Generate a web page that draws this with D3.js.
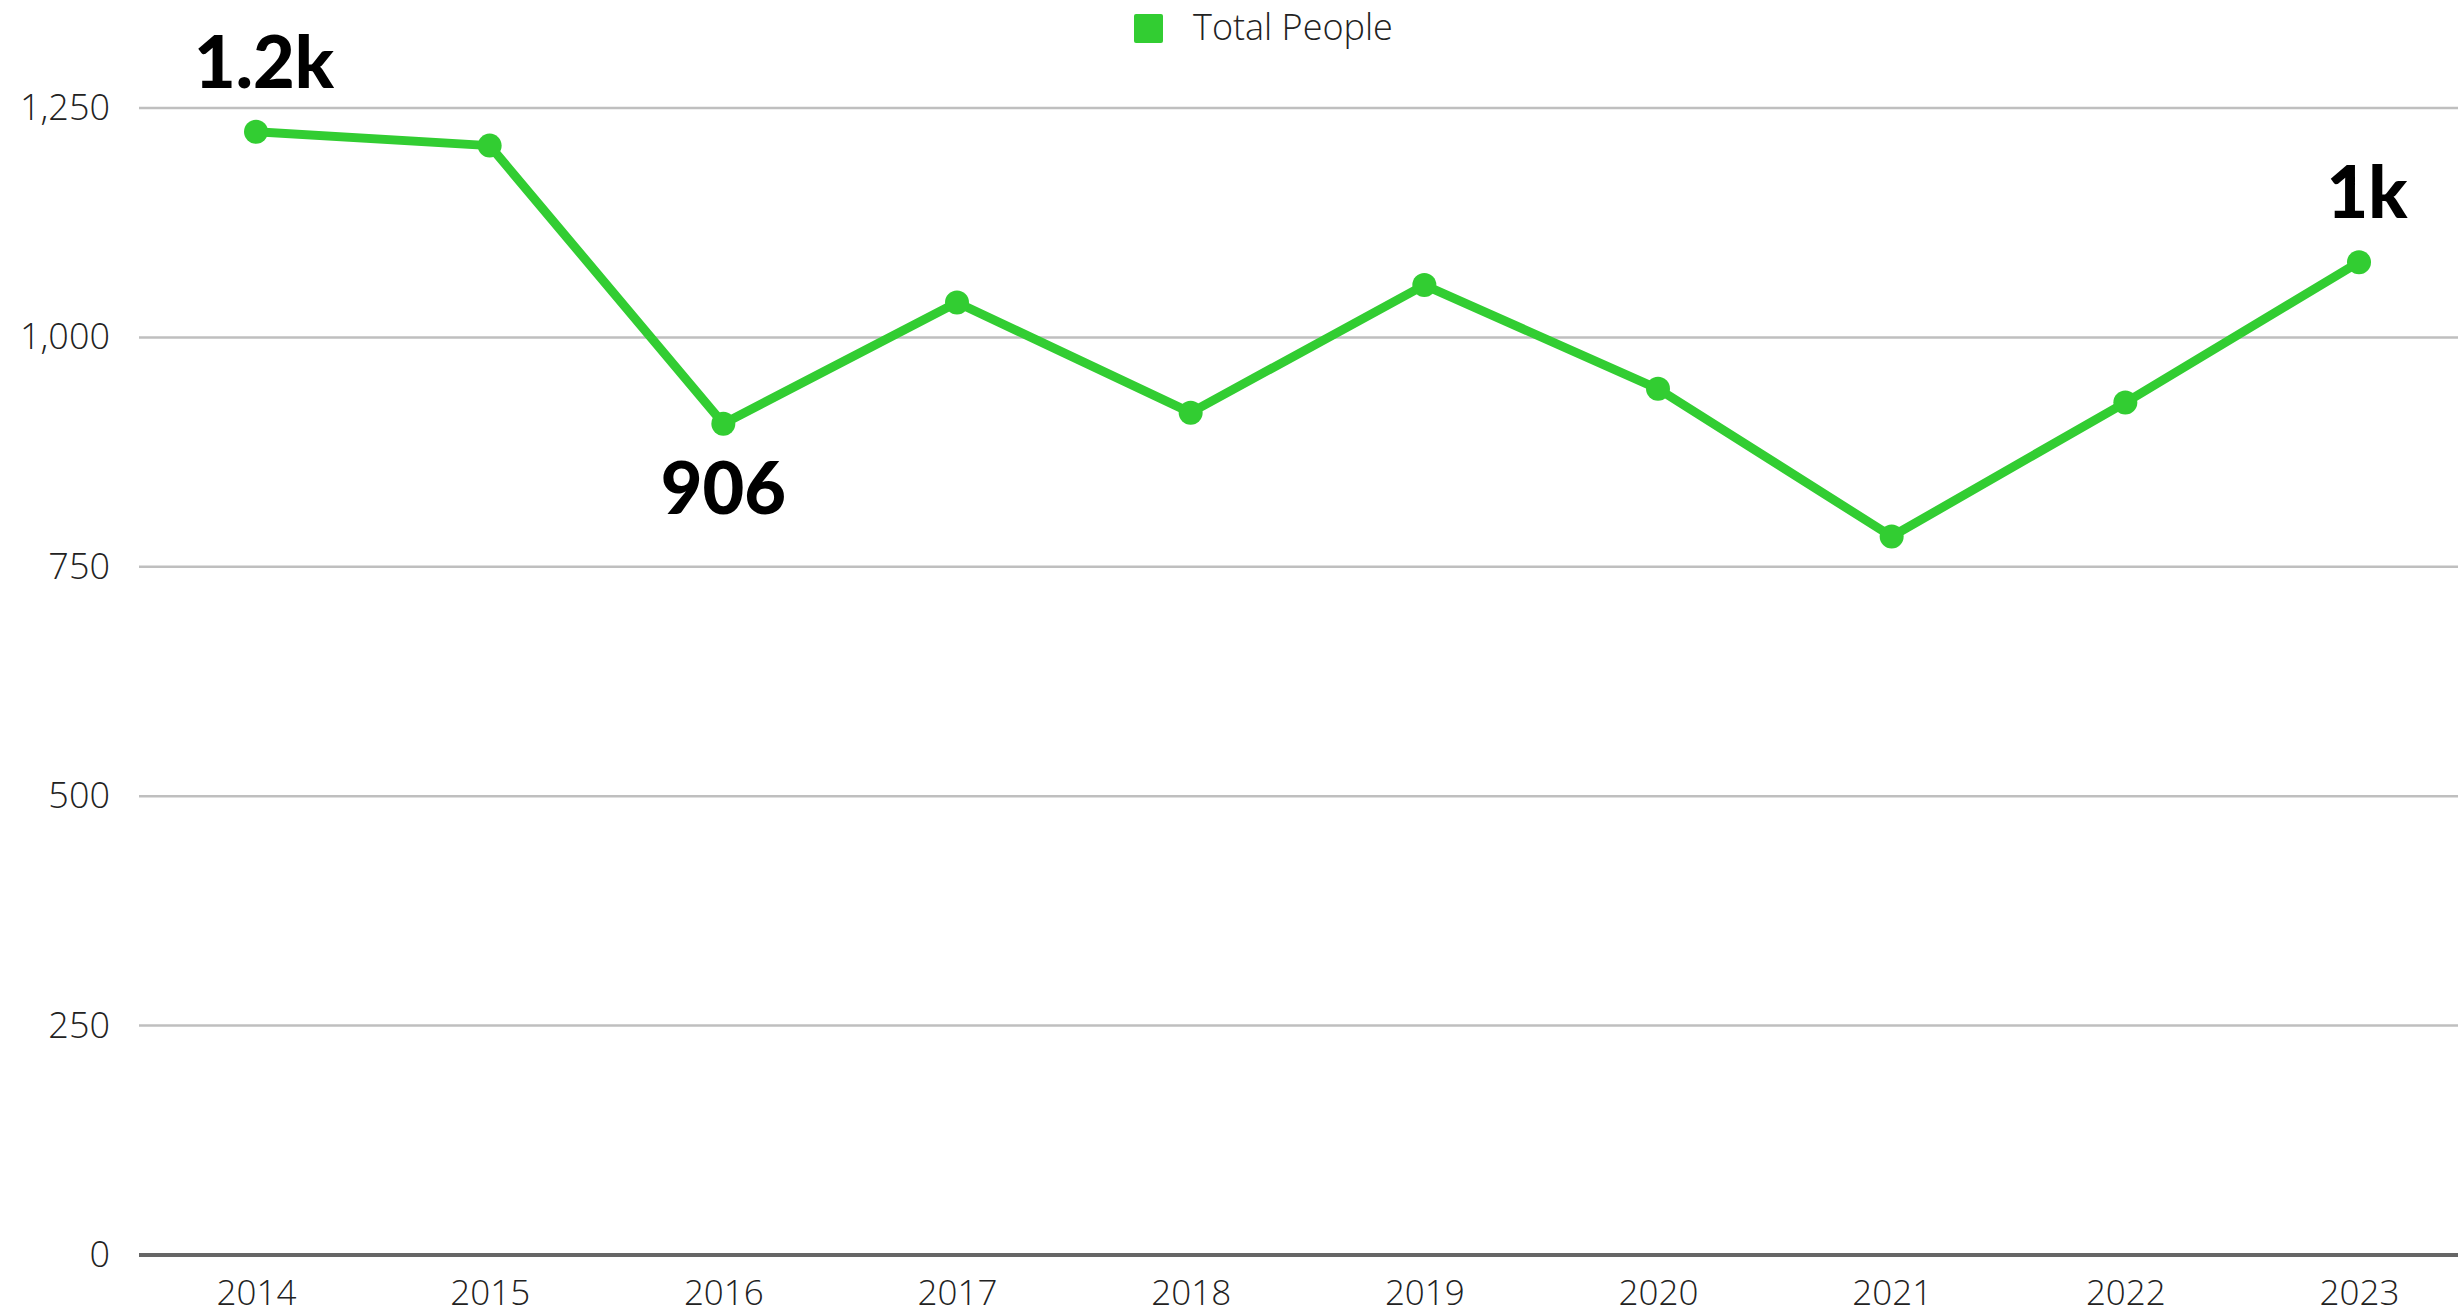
<!DOCTYPE html>
<html>
<head>
<meta charset="utf-8">
<script src="https://cdn.jsdelivr.net/npm/d3@7"></script>
<style>
  body { margin: 0; background: #fff; }
  svg { display: block; }
</style>
</head>
<body>
<svg id="chart"></svg>
<script>
// chart values
const years = [2014, 2015, 2016, 2017, 2018, 2019, 2020, 2021, 2022, 2023];
const totalPeople = [1224, 1209, 906, 1038, 918, 1057, 944, 783, 929, 1082];
const yTicks = [0, 250, 500, 750, 1000, 1250];
// only a few points carry a label
const pointLabels = [
  { year: 2014, text: "1.2k", pos: "above" },
  { year: 2016, text: "906", pos: "below" },
  { year: 2023, text: "1k", pos: "above" }
];
const seriesName = "Total People";

const width = 2458;
const height = 1315;
const green = "#32cd32";

const svg = d3.select("#chart")
  .attr("width", width)
  .attr("height", height);

// scales
const xScale = d3.scalePoint()
  .domain(years)
  .range([256, 2359]);

const yScale = d3.scaleLinear()
  .domain([0, 1250])
  .range([1255, 108]);

const gridLeft = 139;
const gridRight = width;

// gridlines
svg.append("g")
  .selectAll("line")
  .data(yTicks.filter(d => d !== 0))
  .join("line")
  .attr("x1", gridLeft)
  .attr("x2", gridRight)
  .attr("y1", d => yScale(d))
  .attr("y2", d => yScale(d))
  .attr("stroke", "#bfbfbf")
  .attr("stroke-width", 2.5);

// y axis labels
const yAxis = d3.axisLeft(yScale)
  .tickValues(yTicks)
  .tickFormat(d3.format(","))
  .tickSize(0)
  .tickPadding(0);

svg.append("g")
  .attr("transform", "translate(110,0)")
  .call(yAxis)
  .call(g => g.select(".domain").remove())
  .call(g => g.selectAll("text")
    .attr("font-family", "'Open Sans', sans-serif")
    .attr("font-weight", 300)
    .attr("font-size", 36)
    .attr("fill", "#222"));

// baseline
svg.append("line")
  .attr("x1", gridLeft)
  .attr("x2", gridRight)
  .attr("y1", yScale(0))
  .attr("y2", yScale(0))
  .attr("stroke", "#666")
  .attr("stroke-width", 4);

// x axis labels
const xAxis = d3.axisBottom(xScale).tickSize(0).tickPadding(0);
svg.append("g")
  .attr("transform", "translate(0,1278)")
  .call(xAxis)
  .call(g => g.select(".domain").remove())
  .call(g => g.selectAll("text")
    .attr("dy", "0.76em")
    .attr("font-family", "'Open Sans', sans-serif")
    .attr("font-weight", 300)
    .attr("font-size", 35)
    .attr("fill", "#222"));

// line
const data = years.map((y, i) => ({ year: y, value: totalPeople[i] }));

const line = d3.line()
  .x(d => xScale(d.year))
  .y(d => yScale(d.value));

svg.append("path")
  .datum(data)
  .attr("d", line)
  .attr("fill", "none")
  .attr("stroke", green)
  .attr("stroke-width", 9)
  .attr("stroke-linejoin", "round");

svg.append("g")
  .selectAll("circle")
  .data(data)
  .join("circle")
  .attr("cx", d => xScale(d.year))
  .attr("cy", d => yScale(d.value))
  .attr("r", 12)
  .attr("fill", green);

// data labels
svg.append("g")
  .selectAll("text")
  .data(pointLabels)
  .join("text")
  .attr("x", d => xScale(d.year) + (d.pos === "above" ? 8 : 0))
  .attr("y", d => {
    let v = totalPeople[years.indexOf(d.year)];
    return d.pos === "above" ? yScale(v) - 44 : yScale(v) + 90;
  })
  .attr("text-anchor", "middle")
  .attr("font-family", "Lato, sans-serif")
  .attr("font-weight", 900)
  .attr("font-size", 72)
  .attr("fill", "#000")
  .text(d => d.text);

// legend
const legend = svg.append("g").attr("transform", "translate(1134,14)");
legend.append("rect")
  .attr("width", 29)
  .attr("height", 29)
  .attr("rx", 2)
  .attr("fill", green);
legend.append("text")
  .attr("x", 59)
  .attr("y", 26)
  .attr("font-family", "'Open Sans', sans-serif")
  .attr("font-weight", 300)
  .attr("font-size", 36)
  .attr("fill", "#222")
  .text(seriesName);
</script>
</body>
</html>
